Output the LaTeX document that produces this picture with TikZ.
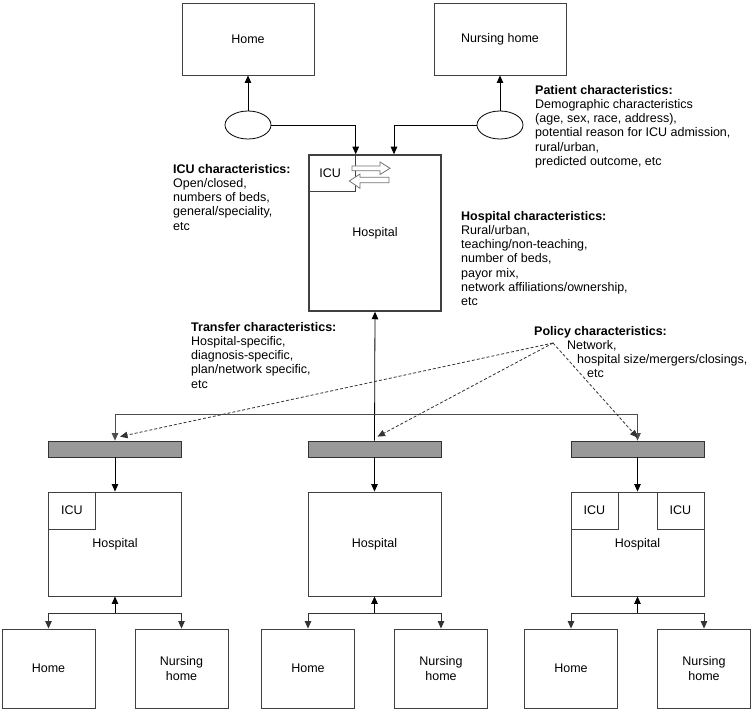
\documentclass[tikz,border=0pt]{standalone}
\usepackage{fontspec}
\setmainfont{Liberation Sans}
\usetikzlibrary{positioning, arrows.meta, calc, shapes.geometric}

\begin{document}
\begin{tikzpicture}[x=1pt, y=-1pt, font=\fontsize{12.5}{14.2}\selectfont,
  box/.style={draw=black!75, line width=0.9pt, inner sep=0pt, align=center},
  place/.style={box, minimum width=93pt, minimum height=79pt},
  hosp/.style={box, minimum width=133pt, minimum height=104pt},
  icu/.style={box, minimum width=47pt, minimum height=37pt},
  bar/.style={draw=black!80, fill=black!40, line width=0.8pt, minimum width=133pt, minimum height=16pt, inner sep=0pt},
  blob/.style={ellipse, draw, line width=0.8pt, minimum width=46pt, minimum height=28pt, inner sep=0pt},
  note/.style={align=left, anchor=north west, inner sep=0pt},
  link/.style={line width=0.8pt, -{Triangle[length=7.5pt,width=6.5pt]}},
  feed/.style={link, black!80, dash pattern=on 3pt off 2pt},
  hollow/.style={draw=black!55, fill=white, line width=0.8pt}]
  \useasboundingbox (0,0) rectangle (753,711);

  % top: where the patient comes from
  \node[box, minimum width=132pt, minimum height=72pt] (home) at (248,39) {Home};
  \node[box, minimum width=132pt, minimum height=72pt] (nurse) at (500,39) {Nursing home};
  \node[blob] (pL) at (248,125) {};
  \node[blob] (pR) at (500,125) {};

  % the first hospital
  \node[box, line width=1.5pt, minimum width=132pt, minimum height=156pt] (hosp) at (375,233) {Hospital};
  \node[box, anchor=north west, minimum width=47pt, minimum height=37pt] (icu) at (hosp.north west) {ICU\hspace*{4pt}};
  \coordinate (inL) at (355.7,0);
  \coordinate (inR) at (394,0);

  \draw[link] (pL.north) -- (pL.north |- home.south);
  \draw[link] (pR.north) -- (pR.north |- nurse.south);
  \draw[link] (pL.east) -| (inL |- hosp.north);
  \draw[link] (pR.west) -| (inR |- hosp.north);

  % ICU <-> ward
  \draw[hollow] (352,166) -- (380,166) -- (380,162) -- (390,168.3) -- (380,174.5) -- (380,170.7) -- (352,170.7) -- cycle;
  \draw[hollow] (389,177.3) -- (360,177.3) -- (360,174) -- (349.3,181) -- (360,188.3) -- (360,182.7) -- (389,182.7) -- cycle;

  % side notes
  \node[note] (patient) at (535,85) {\textbf{Patient characteristics:}\\Demographic characteristics\\(age, sex, race, address),\\potential reason for ICU admission,\\rural/urban,\\predicted outcome, etc};
  \node[note] (icunote) at (173,164) {\textbf{ICU characteristics:}\\Open/closed,\\numbers of beds,\\general/speciality,\\etc};
  \node[note] (hospnote) at (461,211) {\textbf{Hospital characteristics:}\\Rural/urban,\\teaching/non-teaching,\\number of beds,\\payor mix,\\network affiliations/ownership,\\etc};
  \node[note] (transfer) at (191,322) {\textbf{Transfer characteristics:}\\Hospital-specific,\\diagnosis-specific,\\plan/network specific,\\etc};
  \node[note] (policy) at (534,326) {\textbf{Policy characteristics:}\\\hspace*{33pt}Network,\\\hspace*{43pt}hospital size/mergers/closings,\\\hspace*{53pt}etc};

  % receiving hospitals
  \foreach \name/\cx in {A/115, B/374.5, C/637.5} {
    \node[bar] (bar\name) at (\cx,449) {};
    \node[hosp] (h\name) at (\cx,544) {Hospital};
    \node[place] (home\name) at (\cx-66.5,668.5) {Home};
    \node[place] (nurse\name) at (\cx+66.5,668.5) {Nursing\\home};
    \coordinate (j\name) at (\cx,613);
    \draw[link] (bar\name.south) -- (h\name.north);
    \draw[link] (j\name) -- (h\name.south);
    \draw[link, black!80] (j\name) -| (home\name.north);
    \draw[link, black!80] (j\name) -| (nurse\name.north);
  }
  \node[icu, anchor=north west] (icuA) at (hA.north west) {ICU};
  \node[icu, anchor=north west] (icuC1) at (hC.north west) {ICU};
  \node[icu, anchor=north east] (icuC2) at (hC.north east) {ICU};

  % transfer out of the first hospital
  \coordinate (split) at (374.5,414);
  \draw[link] (barB.north) -- (hosp.south);
  \draw[link, black!70] (split) -| (barA.north);
  \draw[link, black!70] (split) -| (barC.north);

  % policy acts on every transfer
  \coordinate (pol) at (553,343);
  \draw[feed] (pol) -- ($(barA.north)+(5,-4)$);
  \draw[feed] (pol) -- ($(barB.north)+(3,-4)$);
  \draw[feed] (pol) -- ($(barC.north)+(0,-3)$);
\end{tikzpicture}
\end{document}
